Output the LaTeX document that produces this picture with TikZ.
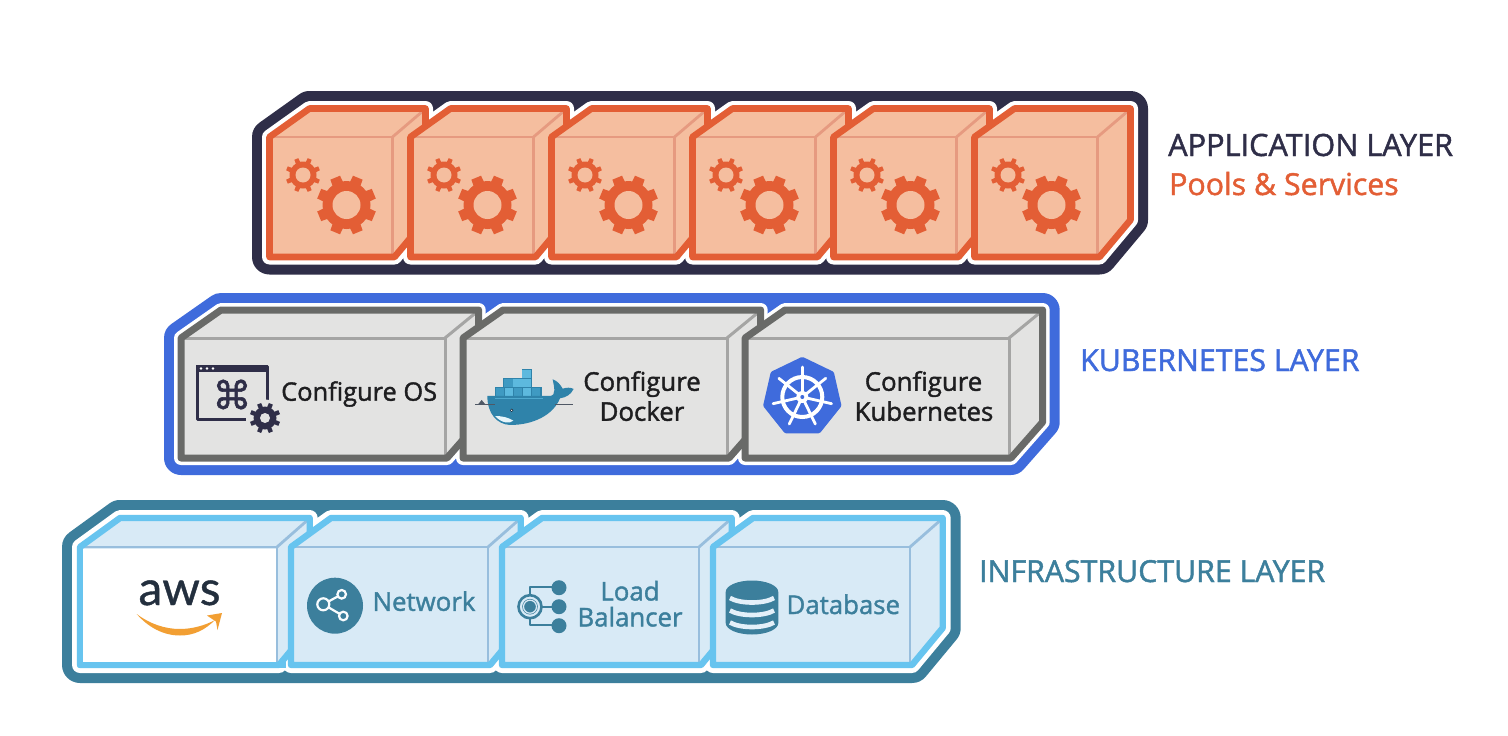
\documentclass[tikz,border=0pt]{standalone}
\usepackage{fontspec}
\setmainfont{Open Sans}
\newfontfamily\medf[FakeBold=1.5]{Open Sans}
\newfontfamily\dejav{DejaVu Sans}
\newfontfamily\awsf[FakeBold=0.8]{Lato}
\definecolor{appdark}{HTML}{2F2E48}
\definecolor{apporange}{HTML}{E35E35}
\definecolor{appbg}{HTML}{F5BE9F}
\definecolor{applin}{HTML}{E69A80}
\definecolor{kubeblue}{HTML}{3F6BDC}
\definecolor{kubeedge}{HTML}{696A68}
\definecolor{kubebg}{HTML}{E3E3E2}
\definecolor{kubelin}{HTML}{A5A5A4}
\definecolor{teal}{HTML}{3C7F9C}
\definecolor{infraedge}{HTML}{67C4EF}
\definecolor{infrabg}{HTML}{D8EAF6}
\definecolor{infralin}{HTML}{98BEDD}
\definecolor{awsink}{HTML}{232F3E}
\definecolor{awsorange}{HTML}{F29F33}
\definecolor{txtdark}{HTML}{1E1E20}
\definecolor{dockd}{HTML}{2F83AA}
\definecolor{dockm}{HTML}{3F9AC2}
\definecolor{dockl}{HTML}{5DB9DE}
% left, total width, front width, top, front top, bottom, chamfer y
\newcommand\cubeshape[7]{(#1,#5) -- ({#1+40},#4) -- ({#1+#2},#4) -- ({#1+#2},#7) -- ({#1+#3+2},#6) -- (#1,#6) -- cycle}
\newcommand\drawcube[7]{%
  \fill[#1fill] \cubeshape{#2}{#3}{#4}{#5}{#6}{#7}{\chamf};
  \draw[#1line] (#2,#6) -- ({#2+#4},#6) -- ({#2+#4},#7);
  \draw[#1line] ({#2+#4},#6) -- ({#2+#3-2},{#5+2});
  \draw[#1out] \cubeshape{#2}{#3}{#4}{#5}{#6}{#7}{\chamf};
}
\newcommand\gearicon[8]{% cx cy Rout Rroot Rhole colour hole halfwidth
  \begin{scope}[shift={(#1,#2)}]
    \fill[#6] (0,0) circle (#4);
    \foreach \a in {22.5,67.5,...,360}{
      \fill[#6] ({\a-#8-4}:{#4-1}) -- ({\a-#8}:#3) -- ({\a+#8}:#3) -- ({\a+#8+4}:{#4-1}) -- cycle;
    }
    \fill[#7] (0,0) circle (#5);
  \end{scope}
}
\newcommand\lbl[1]{\fontsize{#1}{#1}\selectfont}
\tikzset{
  appfill/.style={fill=appbg},
  appline/.style={draw=applin,line width=2.8pt},
  appout/.style={draw=apporange,line width=6.6pt,line join=round},
  kubefill/.style={fill=kubebg},
  kubeline/.style={draw=kubelin,line width=3pt},
  kubeout/.style={draw=kubeedge,line width=7pt,line join=round},
  infrafill/.style={fill=infrabg},
  infraline/.style={draw=infralin,line width=2.8pt},
  infraout/.style={draw=infraedge,line width=6.4pt,line join=round},
  halo/.style={line width=#1,line join=round},
  txt/.style={inner sep=0pt,anchor=base},
  boxtext/.style={txt,text=txtdark,font=\medf\lbl{25.8}},
  infratext/.style={txt,text=teal,font=\medf\lbl{25.8}},
  layertext/.style={inner sep=0pt,anchor=base west,font=\medf\lbl{30.3}},
}
\begin{document}
\begin{tikzpicture}[x=1pt,y=-1pt]
\useasboundingbox (0,0) rectangle (1508,736);
\fill[white] (0,0) rectangle (1508,736);
% ===== application layer
\def\chamf{220}
\path[draw=appdark,fill=appdark,halo=35] \cubeshape{269.5}{861}{828}{108.5}{137}{257}{\chamf};
\foreach \i in {0,...,5}{
  \pgfmathsetmacro\lx{269.5+141*\i}
  \path[draw=white,fill=white,halo=15] \cubeshape{\lx}{156}{123}{108.5}{137}{257}{\chamf};
}
\foreach \i in {0,...,5}{
  \pgfmathsetmacro\lx{269.5+141*\i}
  \drawcube{app}{\lx}{156}{123}{108.5}{137}{257}
  \gearicon{\lx+77}{205}{30}{24}{14}{apporange}{appbg}{10}
  \gearicon{\lx+33.5}{175}{17.5}{13.5}{7.5}{apporange}{appbg}{7}
}
% ===== kubernetes layer
\def\chamf{422}
\path[draw=kubeblue,fill=kubeblue,halo=34] \cubeshape{181}{861.7}{828}{310}{338}{458}{\chamf};
\foreach \i in {0,1,2}{
  \pgfmathsetmacro\lx{181+282*\i}
  \path[draw=white,fill=white,halo=14] \cubeshape{\lx}{297.7}{264}{310}{338}{458}{\chamf};
}
\foreach \i in {0,1,2}{
  \pgfmathsetmacro\lx{181+282*\i}
  \drawcube{kube}{\lx}{297.7}{264}{310}{338}{458}
}
% ===== infrastructure layer
\def\chamf{628}
\path[draw=teal,fill=teal,halo=36] \cubeshape{80}{862.7}{830}{518}{547}{665}{\chamf};
\foreach \i in {0,...,3}{
  \pgfmathsetmacro\lx{80+211*\i}
  \path[draw=white,fill=white,halo=16] \cubeshape{\lx}{229.7}{197}{518}{547}{665}{\chamf};
}
\foreach \i in {0,...,3}{
  \pgfmathsetmacro\lx{80+211*\i}
  \drawcube{infra}{\lx}{229.7}{197}{518}{547}{665}
}
\fill[white] (83.3,548.5) rectangle (275.6,661.7);
\draw[draw=infraedge,line width=6.4pt,line join=round] (80,547) -- (80,665) -- (286,665);
% ===== Configure OS icon
\draw[appdark,line width=3pt,line join=round] (197,366) rectangle (267,419);
\fill[appdark] (196,365) rectangle (268,372);
\foreach \k in {201,207,213}{\fill[white] (\k,368.5) circle (1.4);}
\node (cmd) [inner sep=0pt,text=appdark] at (232,394.5) {\medf\fontspec[FakeBold=1.5]{DejaVu Sans}\lbl{39}⌘};
\fill[kubebg] (265,418.5) circle (19);
\gearicon{265}{418}{15.5}{11.5}{5}{appdark}{kubebg}{8}
\node (cfgos) [boxtext,anchor=base west,font=\medf\lbl{25.4}] at (281,400.7) {Configure OS};
% ===== Docker icon
\begin{scope}[shift={(460,290)},x=.3333pt,y=-.3333pt]
  \fill[dockd] (185,237) rectangle (215,266);
  \fill[dockd] (130,265) rectangle (215,293);
  \fill[dockd] (105,292) rectangle (245,320);
  \foreach \xa/\ya/\col in {187/239/dockl,133/267/dockm,160/267/dockl,187/267/dockl,107/294/dockm,134/294/dockl,161/294/dockm,188/294/dockl,216/294/dockm}{
    \fill[\col] (\xa,\ya) rectangle +(25,24);
  }
  \fill[dockd] (82,318) -- (270,318) .. controls (290,316) and (282,290) .. (278,268)
    .. controls (292,272) and (302,285) .. (308,296)
    .. controls (320,292) and (332,292) .. (341,297)
    .. controls (332,315) and (318,322) .. (300,325)
    .. controls (280,375) and (220,405) .. (150,405)
    .. controls (110,403) and (82,370) .. (82,318) -- cycle;
  \fill[white!85!dockl] (105,378) .. controls (125,378) and (145,382) .. (160,392)
    .. controls (150,402) and (125,400) .. (105,378) -- cycle;
  \draw[dockl!70!dockd,line width=1.2pt] (105,325) -- (250,325);
  \fill[awsink] (155,361) circle (5);
  \fill[white] (155,361) circle (2);
  \draw[awsink!80!white,line width=.8pt] (45,342) -- (105,342);
  \draw[awsink!80!white,line width=.8pt] (285,342) -- (340,342);
  \fill[awsink!80!white] (55,342) -- (65,330) -- (75,342) -- cycle;
\end{scope}
\node (cfgd1) [boxtext] at (642,390.8) {Configure};
\node (cfgd2) [boxtext] at (642,420.8) {Docker};
% ===== Kubernetes icon
\begin{scope}[shift={(802.3,397)}]
  \draw[kubeblue,fill=kubeblue,line width=5pt,line join=round]
    (-90:37.5) -- ({-90+360/7}:37.5) -- ({-90+720/7}:37.5) -- ({-90+1080/7}:37.5) -- ({-90+1440/7}:37.5) -- ({-90+1800/7}:37.5) -- ({-90+2160/7}:37.5) -- cycle;
  \draw[white,line width=4pt] (0,0) circle (20);
  \foreach \k in {0,...,6}{
    \draw[white,line width=2.8pt,line cap=round] (0,0) -- ({-90+\k*360/7}:30);
  }
  \fill[white] (0,0) circle (6);
  \fill[kubeblue] (0,0) circle (2);
\end{scope}
\node (cfgk1) [boxtext] at (923.5,390.8) {Configure};
\node (cfgk2) [boxtext] at (924,420.8) {Kubernetes};
% ===== AWS
\node (aws) [inner sep=0pt,anchor=base,text=awsink] at (179.5,605) {\awsf\lbl{48}aws};
\fill[awsorange] (136.7,614) .. controls (150,624) and (165,629) .. (180,629)
  .. controls (192,629) and (205,625.5) .. (215,620)
  .. controls (205,630) and (194,635.5) .. (180,635.5)
  .. controls (163,635.5) and (148,627) .. (136.7,614) -- cycle;
\fill[awsorange] (207,615.5) -- (222,613) -- (217.5,630) -- (216,621.5) -- cycle;
% ===== Network
\fill[teal] (335,605.7) circle (28);
\draw[white!85!infrabg,line width=2.2pt] (323.3,604.3) -- (341.7,594.3) (323.3,604.3) -- (343.3,616);
\fill[teal] (323.3,604.3) circle (6) (341.7,594.3) circle (4.5) (343.3,616) circle (4.5);
\draw[white!85!infrabg,line width=2.2pt] (323.3,604.3) circle (6) (341.7,594.3) circle (4.3) (343.3,616) circle (4.3);
\node (net) [infratext] at (424,610.8) {Network};
% ===== Load balancer
\draw[teal,line width=2.4pt,line join=round] (530,595) -- (530,586.7) -- (555,586.7) (542,606.7) -- (555,606.7) (530,618) -- (530,625) -- (555,625);
\draw[teal,line width=2.6pt] (530,606.7) circle (11.5);
\fill[teal] (530,606.7) circle (7.8);
\draw[draw=infrabg,line width=1.2pt] (530,606.7) circle (6.5);
\foreach \k in {587.7,606.7,625.7}{\fill[teal] (559,\k) circle (7.5);}
\node (lb1) [infratext] at (630,600.5) {Load};
\node (lb2) [infratext] at (630,626.4) {Balancer};
% ===== Database
\fill[teal] (725.7,592) arc[start angle=180,end angle=360,x radius=26.3,y radius=11.5]
  -- (778.3,623) arc[start angle=0,end angle=-180,x radius=26.3,y radius=-11.5] -- cycle;
\foreach \yy in {601,613.5,625.5}{
  \draw[draw=infrabg!70!white,line width=4.6pt] (730,\yy-3) .. controls (740,\yy+3) and (764,\yy+3) .. (774,\yy-3);
}
\node (db) [infratext] at (843.3,614) {Database};
% ===== Layer labels
\node (lapp) [layertext,text=appdark,font=\medf\lbl{30.7}] at (1168,156) {APPLICATION LAYER};
\node (lpool) [layertext,text=apporange] at (1169,195) {Pools \& Services};
\node (lkube) [layertext,text=kubeblue] at (1080,371) {KUBERNETES LAYER};
\node (linfra) [layertext,text=teal] at (979,582) {INFRASTRUCTURE LAYER};
\end{tikzpicture}
\end{document}
